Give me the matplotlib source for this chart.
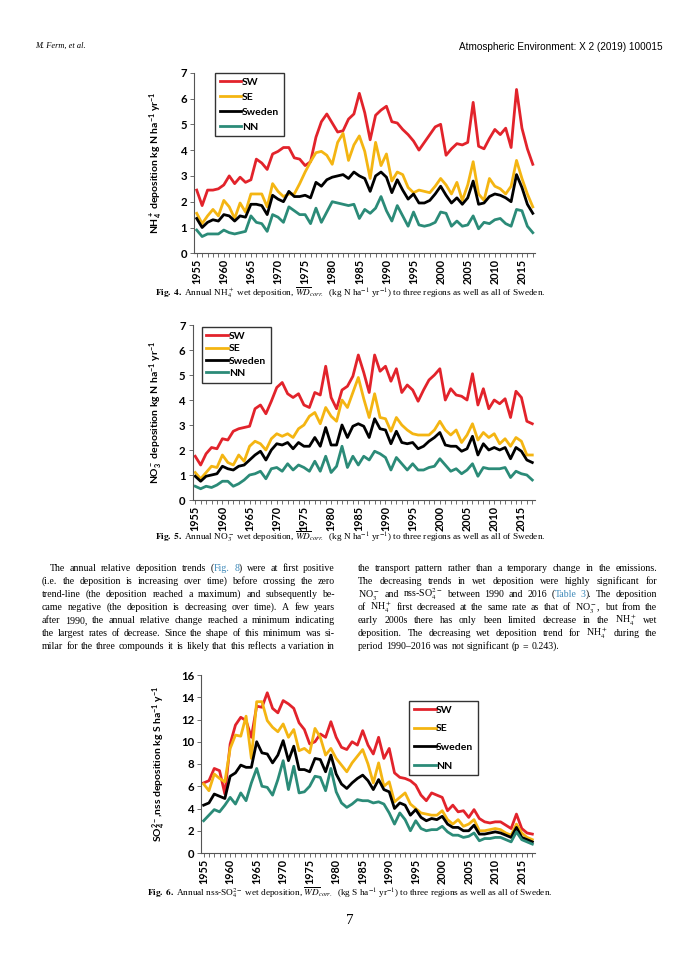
import matplotlib
matplotlib.use('Agg')
import matplotlib.pyplot as plt
import matplotlib.ticker as ticker
import numpy as np

# Annual wet deposition 1955-2017
years = np.arange(1955, 2018)
region_names = ['SW', 'SE', 'Sweden', 'NN']

nh4_sw = [2.45, 1.85, 2.45, 2.45, 2.5, 2.65, 3.0, 2.7, 2.95, 2.75,
          2.85, 3.65, 3.5, 3.25, 3.85, 3.95, 4.1, 4.1, 3.7, 3.65,
          3.4, 3.55, 4.5, 5.1, 5.4, 5.05, 4.7, 4.75, 5.2, 5.4,
          6.2, 5.45, 4.4, 5.35, 5.55, 5.7, 5.1, 5.05, 4.8, 4.6,
          4.35, 4.0, 4.3, 4.6, 4.9, 5.0, 3.8, 4.05, 4.25, 4.2,
          4.3, 5.85, 4.15, 4.05, 4.45, 4.8, 4.6, 4.85, 4.1, 6.35,
          4.85, 4.05, 3.45]
nh4_se = [1.55, 1.15, 1.45, 1.7, 1.45, 2.05, 1.8, 1.35, 1.95, 1.6,
          2.3, 2.3, 2.3, 1.8, 2.7, 2.4, 2.2, 2.3, 2.3, 2.7,
          3.15, 3.55, 3.9, 3.95, 3.8, 3.45, 4.3, 4.65, 3.6, 4.2,
          4.55, 3.95, 2.9, 4.3, 3.4, 3.85, 2.8, 3.15, 3.05, 2.55,
          2.35, 2.45, 2.4, 2.35, 2.6, 2.9, 2.65, 2.3, 2.75, 2.05,
          2.65, 3.55, 2.3, 2.05, 2.9, 2.6, 2.5, 2.3, 2.6, 3.6,
          2.9, 2.3, 1.8]
nh4_sweden = [1.35, 1.0, 1.2, 1.3, 1.25, 1.5, 1.45, 1.25, 1.45, 1.4,
              1.9, 1.9, 1.85, 1.5, 2.25, 2.1, 2.0, 2.4, 2.2, 2.2,
              2.25, 2.15, 2.75, 2.6, 2.85, 2.95, 3.0, 3.05, 2.9, 3.15,
              3.0, 2.9, 2.4, 3.0, 3.15, 2.95, 2.35, 2.85, 2.45, 2.1,
              2.3, 1.95, 1.95, 2.05, 2.3, 2.6, 2.25, 1.95, 2.15, 1.9,
              2.15, 2.8, 1.9, 1.95, 2.2, 2.3, 2.25, 2.15, 2.0, 3.05,
              2.55, 1.9, 1.55]
nh4_nn = [0.9, 0.65, 0.75, 0.75, 0.75, 0.9, 0.8, 0.75, 0.8, 0.85,
          1.45, 1.2, 1.15, 0.85, 1.5, 1.4, 1.2, 1.8, 1.65, 1.5,
          1.5, 1.15, 1.75, 1.2, 1.6, 2.0, 1.95, 1.9, 1.85, 1.9,
          1.35, 1.7, 1.55, 1.75, 2.2, 1.65, 1.25, 1.85, 1.45, 1.05,
          1.6, 1.1, 1.05, 1.1, 1.2, 1.6, 1.55, 1.05, 1.25, 1.05,
          1.1, 1.45, 0.95, 1.2, 1.15, 1.3, 1.35, 1.15, 1.05, 1.7,
          1.65, 1.05, 0.8]

no3_sw = [1.75, 1.4, 1.85, 2.1, 2.05, 2.45, 2.4, 2.75, 2.85, 2.9,
          2.95, 3.65, 3.8, 3.45, 3.95, 4.5, 4.7, 4.25, 4.1, 4.25,
          3.8, 3.7, 4.3, 4.2, 5.35, 4.1, 3.65, 4.4, 4.55, 4.95,
          5.8, 5.1, 4.3, 5.8, 5.15, 5.35, 4.75, 5.25, 4.3, 4.6,
          4.4, 3.95, 4.4, 4.8, 5.0, 5.25, 4.0, 4.45, 4.2, 4.15,
          4.0, 5.05, 3.8, 4.45, 3.65, 4.0, 3.85, 4.05, 3.3, 4.35,
          4.1, 3.15, 3.05]
no3_se = [1.1, 0.85, 1.1, 1.35, 1.3, 1.8, 1.5, 1.4, 1.8, 1.55,
          2.15, 2.35, 2.25, 2.0, 2.45, 2.65, 2.55, 2.65, 2.5, 2.85,
          3.0, 3.35, 3.5, 3.05, 3.7, 3.35, 3.15, 4.0, 3.7, 4.3,
          4.9, 4.05, 3.3, 4.25, 3.3, 3.25, 2.75, 3.3, 3.0, 2.8,
          2.65, 2.6, 2.6, 2.6, 2.8, 3.15, 2.8, 2.6, 2.8, 2.3,
          2.6, 3.05, 2.4, 2.7, 2.5, 2.65, 2.25, 2.45, 2.15, 2.5,
          2.35, 1.8, 1.8]
no3_sweden = [0.95, 0.75, 0.95, 1.0, 1.05, 1.35, 1.25, 1.2, 1.35, 1.4,
              1.6, 1.8, 1.95, 1.6, 2.0, 2.25, 2.2, 2.3, 2.05, 2.3,
              2.15, 2.15, 2.5, 2.15, 2.9, 2.2, 2.2, 3.0, 2.5, 2.95,
              3.05, 2.95, 2.5, 3.25, 2.85, 2.8, 2.25, 2.75, 2.3, 2.25,
              2.3, 2.05, 2.15, 2.35, 2.5, 2.7, 2.2, 2.15, 2.15, 1.95,
              2.05, 2.55, 1.8, 2.25, 2.0, 2.1, 2.0, 2.1, 1.65, 2.1,
              1.95, 1.6, 1.5]
no3_nn = [0.55, 0.45, 0.55, 0.5, 0.6, 0.75, 0.75, 0.55, 0.65, 0.8,
          1.0, 1.05, 1.15, 0.85, 1.25, 1.3, 1.15, 1.45, 1.2, 1.4,
          1.3, 1.15, 1.55, 1.15, 1.75, 1.1, 1.35, 2.15, 1.3, 1.75,
          1.4, 1.75, 1.6, 1.95, 1.85, 1.7, 1.2, 1.7, 1.45, 1.2,
          1.45, 1.2, 1.2, 1.3, 1.35, 1.65, 1.4, 1.15, 1.25, 1.05,
          1.2, 1.45, 0.95, 1.3, 1.25, 1.25, 1.25, 1.3, 0.9, 1.15,
          1.05, 1.0, 0.8]

so4_sw = [6.3, 6.5, 7.6, 7.4, 5.3, 9.8, 11.5, 12.2, 11.9, 10.4,
          13.2, 13.1, 14.4, 13.0, 12.6, 13.7, 13.4, 13.0, 11.7, 11.1,
          9.8, 10.0, 10.7, 10.4, 11.8, 10.4, 9.5, 9.3, 10.0, 9.7,
          11.0, 9.7, 8.9, 10.4, 8.5, 9.4, 7.2, 6.8, 6.7, 6.5,
          6.1, 5.2, 4.7, 5.4, 5.2, 5.0, 3.8, 4.3, 3.7, 3.8,
          3.2, 3.9, 3.1, 2.8, 2.7, 2.8, 2.8, 2.5, 2.2, 3.5,
          2.2, 1.8, 1.7]
so4_se = [6.2, 5.6, 7.1, 6.7, 6.4, 9.4, 10.6, 10.5, 12.3, 8.5,
          13.6, 13.6, 11.9, 11.3, 10.9, 11.6, 10.4, 11.1, 9.2, 9.4,
          9.0, 11.2, 10.4, 8.8, 9.4, 8.5, 7.9, 7.3, 8.1, 8.7,
          9.3, 8.0, 6.3, 8.1, 6.0, 6.4, 4.6, 5.0, 5.4, 4.4,
          4.0, 3.6, 3.5, 3.4, 3.4, 3.8, 3.0, 2.6, 3.0, 2.4,
          2.6, 3.0, 2.0, 2.0, 2.1, 2.2, 2.1, 1.8, 1.6, 2.6,
          1.8, 1.4, 1.2]
so4_sweden = [4.3, 4.5, 5.3, 5.1, 4.9, 6.9, 7.2, 7.9, 7.7, 7.7,
              10.0, 9.0, 8.9, 8.1, 8.8, 10.1, 8.3, 9.6, 7.5, 7.5,
              7.3, 8.5, 8.4, 7.3, 8.8, 7.1, 6.2, 5.8, 6.3, 6.7,
              7.0, 6.5, 5.7, 6.6, 5.7, 5.5, 4.0, 4.5, 4.3, 3.4,
              3.9, 3.2, 2.9, 3.1, 3.0, 3.3, 2.6, 2.3, 2.3, 2.0,
              2.0, 2.5, 1.7, 1.7, 1.8, 1.9, 1.8, 1.6, 1.4, 2.3,
              1.4, 1.2, 1.0]
so4_nn = [2.9, 3.4, 3.9, 3.7, 4.3, 5.0, 4.4, 5.4, 4.7, 6.3,
          7.6, 6.0, 5.9, 5.2, 6.6, 8.3, 5.7, 7.8, 5.4, 5.5,
          6.0, 6.9, 6.8, 5.6, 7.6, 5.5, 4.5, 4.1, 4.4, 4.8,
          4.7, 4.7, 4.5, 4.6, 4.4, 3.6, 2.6, 3.6, 3.0, 2.0,
          2.9, 2.2, 2.0, 2.1, 2.1, 2.4, 1.9, 1.6, 1.6, 1.4,
          1.5, 1.8, 1.1, 1.3, 1.3, 1.4, 1.4, 1.2, 1.0, 1.9,
          1.2, 1.0, 0.8]

ylabel_nh4 = r"NH$_4^+$ deposition kg N ha$^{-1}$ yr$^{-1}$"
ylabel_no3 = r"NO$_3^-$ deposition kg N ha$^{-1}$ yr$^{-1}$"
ylabel_so4 = r"SO$_4^{2-}$,nss deposition kg S ha$^{-1}$ y$^{-1}$"

caption_4 = (r"$\mathbf{Fig.\ 4.}$ Annual NH$_4^+$ wet deposition, $\overline{WD}_{corr.}$"
             r"  (kg N ha$^{-1}$ yr$^{-1}$) to three regions as well as all of Sweden.")
caption_5 = (r"$\mathbf{Fig.\ 5.}$ Annual NO$_3^-$ wet deposition, $\overline{WD}_{corr.}$"
             r"  (kg N ha$^{-1}$ yr$^{-1}$) to three regions as well as all of Sweden.")
caption_6 = (r"$\mathbf{Fig.\ 6.}$ Annual nss-SO$_4^{2-}$ wet deposition, $\overline{WD}_{corr.}$"
             r"  (kg S ha$^{-1}$ yr$^{-1}$) to three regions as well as all of Sweden.")

# '|' splits a word into pieces, '@' marks a piece drawn as a link
left_column = [
    "The annual relative deposition trends (|@Fig. @8|) were at first positive",
    "(i.e. the deposition is increasing over time) before crossing the zero",
    "trend-line (the deposition reached a maximum) and subsequently be-",
    "came negative (the deposition is decreasing over time). A few years",
    "after 1990, the annual relative change reached a minimum indicating",
    "the largest rates of decrease. Since the shape of this minimum was si-",
    "milar for the three compounds it is likely that this reflects a variation in",
]
right_column = [
    "the transport pattern rather than a temporary change in the emissions.",
    "The decreasing trends in wet deposition were highly significant for",
    r"NO$_3^-$ and nss-SO$_4^{2-}$ between 1990 and 2016 (|@Table @3|). The deposition",
    r"of NH$_4^+$ first decreased at the same rate as that of NO$_3^-$, but from the",
    r"early 2000s there has only been limited decrease in the NH$_4^+$ wet",
    r"deposition. The decreasing wet deposition trend for NH$_4^+$ during the",
    "period 1990–2016 was not significant (p = 0.243).",
]

line_colors = ['#e2232b', '#f4b512', '#000000', '#2b8b78']
LINK_COLOR = '#3d89b9'
CHART_FONT = 'Lato'
TEXT_FONT = 'Liberation Serif'
BODY_SIZE = 7.1
W, H = 700, 960

plt.rcParams['font.family'] = [CHART_FONT, 'DejaVu Sans']
plt.rcParams['mathtext.fontset'] = 'custom'
plt.rcParams['mathtext.rm'] = 'Lato:bold'
plt.rcParams['mathtext.it'] = 'Lato:bold'
plt.rcParams['mathtext.bf'] = 'Lato:bold'


def px_axes(fig, left, top, right, bottom):
    return fig.add_axes([left / W, 1 - bottom / H, (right - left) / W, (bottom - top) / H])


def draw_chart(ax, series, ymax, ystep, ylabel, label_x, legend_anchor, legend_spacing):
    for values, name, color in zip(series, region_names, line_colors):
        ax.plot(years, values, color=color, linewidth=2.0, label=name)

    ax.set_xlim(1954.5, 2017.5)
    ax.set_ylim(0, ymax)
    ax.yaxis.set_major_locator(ticker.MultipleLocator(ystep))
    ax.xaxis.set_major_locator(ticker.FixedLocator(np.arange(1955, 2018, 5)))
    ax.xaxis.set_minor_locator(ticker.MultipleLocator(1))

    ax.spines['top'].set_visible(False)
    ax.spines['right'].set_visible(False)
    for side in ['left', 'bottom']:
        ax.spines[side].set_color('#555555')
        ax.spines[side].set_linewidth(0.8)

    ax.tick_params(axis='x', which='both', direction='out', length=3, width=0.6, color='#555555')
    ax.tick_params(axis='x', which='major', labelrotation=90, labelsize=7.8, pad=1)
    ax.tick_params(axis='y', direction='out', length=3, width=0.6, color='#555555',
                   labelsize=8.2, pad=2)
    for lab in ax.get_xticklabels() + ax.get_yticklabels():
        lab.set_fontweight('bold')

    ax.set_ylabel(ylabel, fontsize=7.5, fontweight='bold')
    ax.yaxis.set_label_coords(label_x, 0.5)

    leg = ax.legend(loc='upper left', bbox_to_anchor=legend_anchor, borderaxespad=0,
                    frameon=True, fancybox=False, prop={'size': 7.5, 'weight': 'bold'},
                    handlelength=2.1, handletextpad=0.05, borderpad=0.45,
                    labelspacing=legend_spacing)
    leg.get_frame().set_edgecolor('black')
    leg.get_frame().set_linewidth(1.0)


def put_line(fig, renderer, text, x_left, x_right, y_base, justify):
    words = []
    for word in text.split(' '):
        pieces = []
        for seg in word.split('|'):
            color = LINK_COLOR if seg.startswith('@') else 'black'
            t = fig.text(0, 0, seg.lstrip('@'), fontsize=BODY_SIZE, family=TEXT_FONT,
                         weight='normal', color=color, math_fontfamily='stix',
                         ha='left', va='baseline')
            pieces.append((t, t.get_window_extent(renderer).width))
        words.append(pieces)

    widths = [sum(w for _, w in pieces) for pieces in words]
    gap = 0.27 * BODY_SIZE * 100 / 72
    if justify and len(words) > 1:
        gap = max((x_right - x_left - sum(widths)) / (len(words) - 1), 1.0)

    x = x_left
    for pieces, ww in zip(words, widths):
        for t, w in pieces:
            t.set_position((x / W, 1 - y_base / H))
            x += w
        x += gap


fig = plt.figure(figsize=(7, 9.6), dpi=100, facecolor='white')
renderer = fig.canvas.get_renderer()

ax1 = px_axes(fig, 194, 72.7, 535.5, 253.3)
draw_chart(ax1, [nh4_sw, nh4_se, nh4_sweden, nh4_nn], 7, 1, ylabel_nh4,
           -0.085, (0.061, 1.0), 0.55)

ax2 = px_axes(fig, 192.5, 325, 535, 500)
draw_chart(ax2, [no3_sw, no3_se, no3_sweden, no3_nn], 7, 1, ylabel_no3,
           -0.080, (0.027, 0.99), 0.3)

ax3 = px_axes(fig, 201, 675, 535, 853)
draw_chart(ax3, [so4_sw, so4_se, so4_sweden, so4_nn], 16, 2, ylabel_so4,
           -0.099, (0.623, 0.856), 0.9)

# Page furniture
fig.text(35 / W, 1 - 48 / H, "M. Ferm, et al.", fontsize=6, family=TEXT_FONT,
         style='italic', weight='normal', ha='left', va='baseline')
fig.text(663 / W, 1 - 50 / H, "Atmospheric Environment: X 2 (2019) 100015", fontsize=7.2,
         family='Liberation Sans', weight='normal', ha='right', va='baseline')

for caption, y in [(caption_4, 293), (caption_5, 537), (caption_6, 893)]:
    fig.text(350 / W, 1 - y / H, caption, fontsize=6.7, family=TEXT_FONT, weight='normal',
             math_fontfamily='stix', ha='center', va='center')

for i, line in enumerate(left_column):
    x0 = 50 if i == 0 else 42
    put_line(fig, renderer, line, x0, 335, 571 + 13 * i, True)
for i, line in enumerate(right_column):
    put_line(fig, renderer, line, 358, 657, 571 + 13 * i, i < len(right_column) - 1)

fig.text(350 / W, 1 - 921 / H, "7", fontsize=11, family=TEXT_FONT, weight='normal',
         ha='center', va='center')

fig.savefig('out.png', dpi=100, facecolor='white')
